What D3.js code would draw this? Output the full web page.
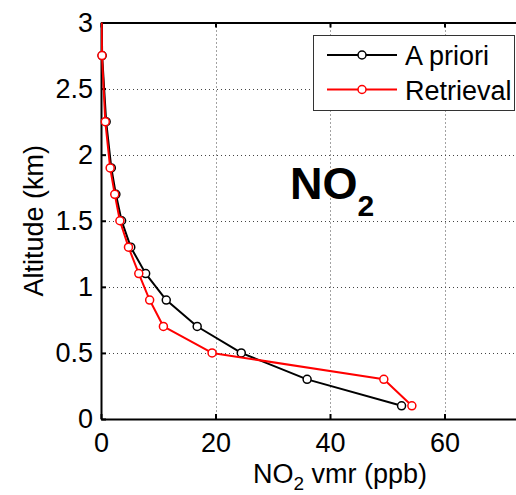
<!DOCTYPE html>
<html><head><meta charset="utf-8">
<script src="https://cdn.jsdelivr.net/npm/d3@7"></script>
<style>body{margin:0;background:#fff}svg{display:block}text{font-family:"Liberation Sans",Arial,sans-serif}</style>
</head><body>
<svg id="c" width="516" height="495"></svg>
<script>
// Data
const altitudes = [0.1, 0.3, 0.5, 0.7, 0.9, 1.1, 1.3, 1.5, 1.7, 1.9, 2.25, 2.75, 3.5];
const aprioriVmr = [52.5, 36.0, 24.5, 16.8, 11.4, 7.8, 5.2, 3.6, 2.6, 1.8, 0.9, 0.2, 0.02];
const retrievalVmr = [54.3, 49.4, 19.4, 10.9, 8.5, 6.6, 4.8, 3.3, 2.4, 1.6, 0.75, 0.17, 0.02];
const xTicks = [0, 20, 40, 60];
const yTicks = [0, 0.5, 1, 1.5, 2, 2.5, 3];
const seriesNames = ["A priori", "Retrieval"];
const seriesColors = ["#000000", "#ff0000"];

const svg = d3.select("#c");
const L = 101, T = 22.5, B = 419, R = 559;
const FS = 27;
const x = d3.scaleLinear().domain([0, 80]).range([L, R]);
const y = d3.scaleLinear().domain([0, 3]).range([B, T]);

svg.append("defs").append("clipPath").attr("id", "clip")
  .append("rect").attr("x", L).attr("y", T).attr("width", R - L).attr("height", B - T);

// grid
const grid = svg.append("g").attr("stroke", "#444").attr("stroke-width", 1).attr("stroke-dasharray", "1,3");
grid.selectAll("line.gx").data(xTicks.filter(d => d > 0)).join("line")
  .attr("x1", d => Math.round(x(d)) + 0.5).attr("x2", d => Math.round(x(d)) + 0.5)
  .attr("y1", T).attr("y2", B);
grid.selectAll("line.gy").data(yTicks.filter(d => d > 0 && d < 3)).join("line")
  .attr("y1", d => Math.round(y(d)) + 0.5).attr("y2", d => Math.round(y(d)) + 0.5)
  .attr("x1", L).attr("x2", R);

// axes
const xAxisB = d3.axisBottom(x).tickValues(xTicks).tickSizeInner(-5).tickSizeOuter(0).tickPadding(14).tickFormat(d3.format("d"));
const gx = svg.append("g").attr("transform", `translate(0,${B})`).call(xAxisB);
gx.select(".domain").attr("stroke-width", 2);
gx.selectAll(".tick line").attr("stroke-width", 2);
gx.selectAll("text").attr("font-size", FS).attr("fill", "#000").attr("font-family", "Liberation Sans, Arial, sans-serif");

const xAxisT = d3.axisTop(x).tickValues(xTicks).tickSizeInner(-5).tickSizeOuter(0).tickFormat("");
const gxt = svg.append("g").attr("transform", `translate(0,${T})`).call(xAxisT);
gxt.select(".domain").attr("stroke-width", 2);
gxt.selectAll(".tick line").attr("stroke-width", 2);

const yAxis = d3.axisLeft(y).tickValues(yTicks).tickSizeInner(-5).tickSizeOuter(0).tickPadding(8).tickFormat(d => d3.format("")(d));
const gy = svg.append("g").attr("transform", `translate(${L},0)`).call(yAxis);
gy.select(".domain").attr("stroke-width", 2);
gy.selectAll(".tick line").attr("stroke-width", 2);
gy.selectAll("text").attr("font-size", FS).attr("fill", "#000").attr("font-family", "Liberation Sans, Arial, sans-serif");

// series
const series = [aprioriVmr, retrievalVmr];
const line = d3.line().x(d => x(d[0])).y(d => y(d[1]));
series.forEach((vals, i) => {
  const pts = vals.map((v, j) => [v, altitudes[j]]);
  svg.append("path").datum(pts).attr("clip-path", "url(#clip)")
    .attr("d", line).attr("fill", "none").attr("stroke", seriesColors[i]).attr("stroke-width", 2)
    .attr("stroke-linejoin", "round");
  svg.append("g").selectAll("circle").data(pts.filter(p => p[1] <= 3)).join("circle")
    .attr("cx", d => x(d[0])).attr("cy", d => y(d[1])).attr("r", 4)
    .attr("fill", "#fff").attr("stroke", seriesColors[i]).attr("stroke-width", 1.5);
});

// labels
const xl = svg.append("text").attr("x", 340).attr("y", 483).attr("text-anchor", "middle").attr("font-size", FS);
xl.append("tspan").text("NO");
xl.append("tspan").attr("dy", 7).attr("font-size", 19).text("2");
xl.append("tspan").attr("dy", -7).text(" vmr (ppb)");

svg.append("text").attr("transform", `translate(43,${(T + B) / 2}) rotate(-90)`).attr("text-anchor", "middle")
  .attr("font-size", FS).text("Altitude (km)");

const nt = svg.append("text").attr("x", 290).attr("y", 199).attr("font-size", 45).attr("font-weight", "bold");
nt.append("tspan").text("NO");
nt.append("tspan").attr("dy", 17).attr("font-size", 30).text("2");

// legend
const lg = svg.append("g");
lg.append("rect").attr("x", 313.5).attr("y", 35.5).attr("width", 201).attr("height", 75)
  .attr("fill", "#fff").attr("stroke", "#333").attr("stroke-width", 1);
seriesNames.forEach((n, i) => {
  const cy = 55 + i * 34.5;
  lg.append("line").attr("x1", 327).attr("x2", 397).attr("y1", cy).attr("y2", cy)
    .attr("stroke", seriesColors[i]).attr("stroke-width", 2);
  lg.append("circle").attr("cx", 362).attr("cy", cy).attr("r", 4).attr("fill", "#fff")
    .attr("stroke", seriesColors[i]).attr("stroke-width", 1.5);
  lg.append("text").attr("x", 405).attr("y", cy + 10).attr("font-size", FS).text(n);
});
</script>
</body></html>
